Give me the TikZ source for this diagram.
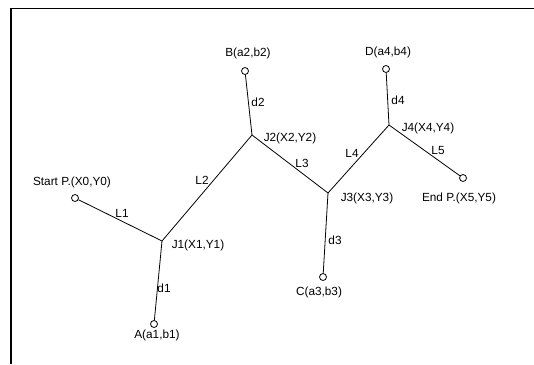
\documentclass[tikz,border=0pt]{standalone}
\usepackage{fontspec}
\setmainfont{Liberation Sans}
\begin{document}
\begin{tikzpicture}[x=1pt,y=-1pt,line width=0.8pt,
	pin/.style={draw,circle,inner sep=0pt,minimum size=7pt},
	lbl/.style={font=\fontsize{11.8}{13}\selectfont,inner sep=0pt}]
\useasboundingbox (0,0) rectangle (534,364);
\draw[line width=1.8pt] (11,364) -- (11,8.5) -- (534,8.5);
\path
	(75,198) node[pin] (start) {}
	(162,241) coordinate (j1)
	(252,135) coordinate (j2)
	(328,193) coordinate (j3)
	(389,125) coordinate (j4)
	(463,178) node[pin] (end) {}
	(154,324) node[pin] (pa) {}
	(245,71) node[pin] (pb) {}
	(323,277) node[pin] (pc) {}
	(386,69) node[pin] (pd) {};
\draw (start) -- (j1) -- (j2) -- (j3) -- (j4) -- (end);
\draw (j1) -- (pa);
\draw (j2) -- (pb);
\draw (j3) -- (pc);
\draw (j4) -- (pd);
\path
	(72,182) node[lbl] (startlbl) {Start P.(X0,Y0)}
	(459,198) node[lbl] (endlbl) {End P.(X5,Y5)}
	(198,245) node[lbl] (j1lbl) {J1(X1,Y1)}
	(290,138) node[lbl] (j2lbl) {J2(X2,Y2)}
	(367,198) node[lbl] (j3lbl) {J3(X3,Y3)}
	(428,128) node[lbl] (j4lbl) {J4(X4,Y4)}
	(157,335) node[lbl] (albl) {A(a1,b1)}
	(248,53) node[lbl] (blbl) {B(a2,b2)}
	(319,292) node[lbl] (clbl) {C(a3,b3)}
	(388,52) node[lbl] (dlbl) {D(a4,b4)}
	(122,213) node[lbl] (l1) {L1}
	(202,180) node[lbl] (l2) {L2}
	(302,163) node[lbl] (l3) {L3}
	(352,153) node[lbl] (l4) {L4}
	(438,150) node[lbl] (l5) {L5}
	(164,288) node[lbl] (d1) {d1}
	(258,102) node[lbl] (d2) {d2}
	(335,240) node[lbl] (d3) {d3}
	(398,100) node[lbl] (d4) {d4};
\end{tikzpicture}
\end{document}
